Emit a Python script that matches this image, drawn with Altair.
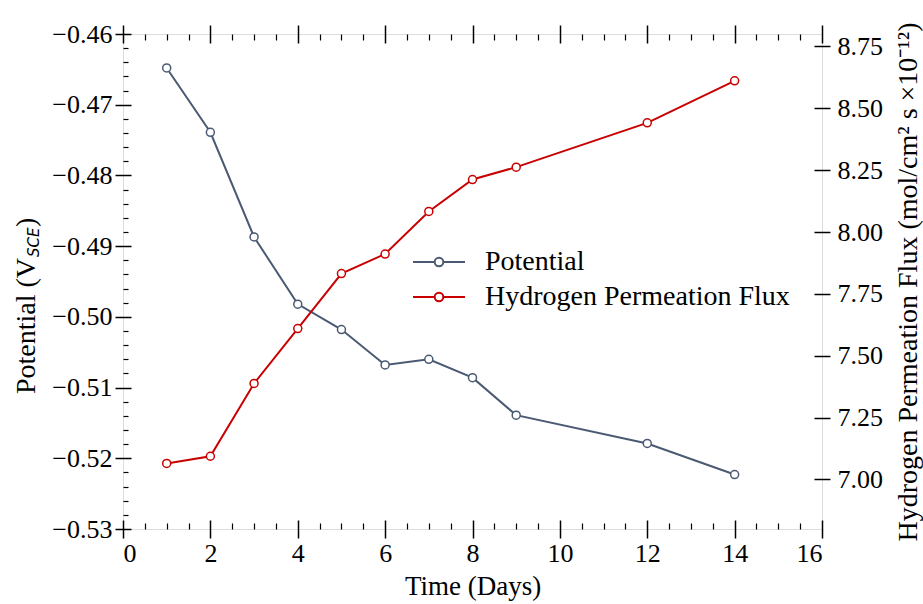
import altair as alt
import pandas as pd

SERIF = "Liberation Serif"

# ---- data ----
days = [1, 2, 3, 4, 5, 6, 7, 8, 9, 12, 14]
potential = [-0.4648, -0.4739, -0.4887, -0.4982, -0.5018, -0.5068, -0.5060,
             -0.5086, -0.5139, -0.5179, -0.5223]
flux = [7.065, 7.094, 7.388, 7.610, 7.832, 7.911, 8.083, 8.212, 8.262, 8.441, 8.611]

series_names = ["Potential", "Hydrogen Permeation Flux"]
series_colors = ["#4a5a72", "#c80000"]

x_major = [0, 2, 4, 6, 8, 10, 12, 14, 16]
x_minor = [0.5, 1, 1.5, 2.5, 3, 3.5, 4.5, 5, 5.5, 6.5, 7, 7.5, 8.5, 9, 9.5,
           10.5, 11, 11.5, 12.5, 13, 13.5, 14.5, 15, 15.5]
y_major = [-0.53, -0.52, -0.51, -0.50, -0.49, -0.48, -0.47, -0.46]
y_minor = [-0.528, -0.526, -0.524, -0.522, -0.518, -0.516, -0.514, -0.512,
           -0.508, -0.506, -0.504, -0.502, -0.498, -0.496, -0.494, -0.492,
           -0.488, -0.486, -0.484, -0.482, -0.478, -0.476, -0.474, -0.472,
           -0.468, -0.466, -0.464, -0.462]
flux_major = [7.00, 7.25, 7.50, 7.75, 8.00, 8.25, 8.50, 8.75]

x_title = "Time (Days)"
left_title_parts = ["Potential (V", "SCE", ")"]
right_title = "Hydrogen Permeation Flux (mol/cm² s ×10⁻¹²)"

df_p = pd.DataFrame({"day": days, "value": potential, "series": series_names[0]})
df_f = pd.DataFrame({"day": days, "value": flux, "series": series_names[1]})

xscale = alt.Scale(domain=[0, 16], nice=False, zero=False)
pscale = alt.Scale(domain=[-0.53, -0.46], nice=False, zero=False)
fscale = alt.Scale(domain=[6.8, 8.8], nice=False, zero=False)
cscale = alt.Scale(domain=series_names, range=series_colors)

COMMON = dict(grid=False, domain=False, labelFont=SERIF, titleFont=SERIF,
              labelColor="black", titleColor="black", tickColor="black",
              titleFontWeight="normal")


def tick_axis(orient, values, size, offset, width):
    return alt.Axis(orient=orient, values=values, labels=False, ticks=True,
                    tickSize=size, offset=offset, tickWidth=width, title=None,
                    **COMMON)


x_main = alt.Axis(orient="bottom", values=x_major, format="d", ticks=False,
                  tickSize=0, labelFontSize=26, labelPadding=24,
                  labelBaseline="middle", title=x_title, titleFontSize=27,
                  titleBaseline="middle", titleY=57, **COMMON)
y_main = alt.Axis(orient="left", values=y_major, format=".2f", ticks=False,
                  tickSize=0, labelFontSize=26, labelPadding=11, title=None,
                  **COMMON)
f_main = alt.Axis(orient="right", values=flux_major, format=".2f", ticks=False,
                  tickSize=0, labelFontSize=26, labelPadding=15,
                  title=right_title, titleFontSize=28, titleAngle=270,
                  titleAlign="center", titleBaseline="middle", titleX=86,
                  titleY=247.5, **COMMON)

PATH = ("M-1.857,0H-0.307M0.307,0H1.857M-0.307,0A0.307,0.307,0,1,0,0.307,0"
        "A0.307,0.307,0,1,0,-0.307,0Z")
legend = alt.Legend(title=None, orient="none", legendX=301, legendY=213,
                    symbolType=PATH, symbolSize=784, symbolStrokeWidth=2,
                    symbolFillColor="white", labelFont=SERIF, labelFontSize=28,
                    labelColor="black", labelOffset=31, rowPadding=6,
                    labelLimit=1000, padding=0)

line_p = alt.Chart(df_p).mark_line(strokeWidth=2).encode(
    x=alt.X("day:Q", scale=xscale, axis=x_main),
    y=alt.Y("value:Q", scale=pscale, axis=y_main),
    color=alt.Color("series:N", scale=cscale, legend=legend),
)
pts_p = alt.Chart(df_p).mark_point(filled=True, fill="white", size=64,
                                   strokeWidth=1.5, opacity=1).encode(
    x=alt.X("day:Q", scale=xscale, axis=tick_axis("bottom", x_major, 18, -9, 1.5)),
    y=alt.Y("value:Q", scale=pscale, axis=tick_axis("left", y_major, 16, -8, 1.5)),
    stroke=alt.Stroke("series:N", scale=cscale, legend=None),
)
inv1 = alt.Chart(df_p).mark_point(opacity=0).encode(
    x=alt.X("day:Q", scale=xscale, axis=tick_axis("bottom", x_minor, 6, -6, 1.2)),
    y=alt.Y("value:Q", scale=pscale, axis=tick_axis("left", y_minor, 5, -5, 1.2)),
)
inv2 = alt.Chart(df_p).mark_point(opacity=0).encode(
    x=alt.X("day:Q", scale=xscale, axis=tick_axis("top", x_major, 18, -9, 1.5)),
    y=alt.Y("value:Q", scale=pscale, axis=None),
)
inv3 = alt.Chart(df_p).mark_point(opacity=0).encode(
    x=alt.X("day:Q", scale=xscale, axis=tick_axis("top", x_minor, 6, -6, 1.2)),
    y=alt.Y("value:Q", scale=pscale, axis=None),
)
line_f = alt.Chart(df_f).mark_line(strokeWidth=2).encode(
    x=alt.X("day:Q", scale=xscale, axis=None),
    y=alt.Y("value:Q", scale=fscale, axis=f_main),
    color=alt.Color("series:N", scale=cscale, legend=legend),
)
pts_f = alt.Chart(df_f).mark_point(filled=True, fill="white", size=64,
                                   strokeWidth=1.5, opacity=1).encode(
    x=alt.X("day:Q", scale=xscale, axis=None),
    y=alt.Y("value:Q", scale=fscale, axis=tick_axis("right", flux_major, 16, -8, 1.5)),
    stroke=alt.Stroke("series:N", scale=cscale, legend=None),
)

t1 = alt.Chart(pd.DataFrame({"t": [left_title_parts[0]]})).mark_text(
    angle=270, align="right", baseline="middle", font=SERIF, fontSize=28,
    color="black").encode(text="t:N", x=alt.value(-96), y=alt.value(224))
t2 = alt.Chart(pd.DataFrame({"t": [left_title_parts[1]]})).mark_text(
    angle=270, align="left", baseline="middle", font="DejaVu Sans",
    fontStyle="italic", fontSize=15, color="black").encode(
    text="t:N", x=alt.value(-89), y=alt.value(223))
t3 = alt.Chart(pd.DataFrame({"t": [left_title_parts[2]]})).mark_text(
    angle=270, align="left", baseline="middle", font=SERIF, fontSize=28,
    color="black").encode(text="t:N", x=alt.value(-96), y=alt.value(193))

chart = alt.layer(
    line_p, pts_p, inv1, inv2, inv3, line_f, pts_f, t1, t2, t3
).resolve_scale(y="independent").resolve_axis(
    x="independent", y="independent"
).properties(
    width=699, height=495,
    autosize=alt.AutoSizeParams(type="none"),
    padding={"left": 123, "top": 34, "right": 101, "bottom": 75},
).configure_view(stroke="black", strokeWidth=1.8).configure(background="white")

chart.save("out.html", embed_options={"renderer": "svg", "actions": False})
